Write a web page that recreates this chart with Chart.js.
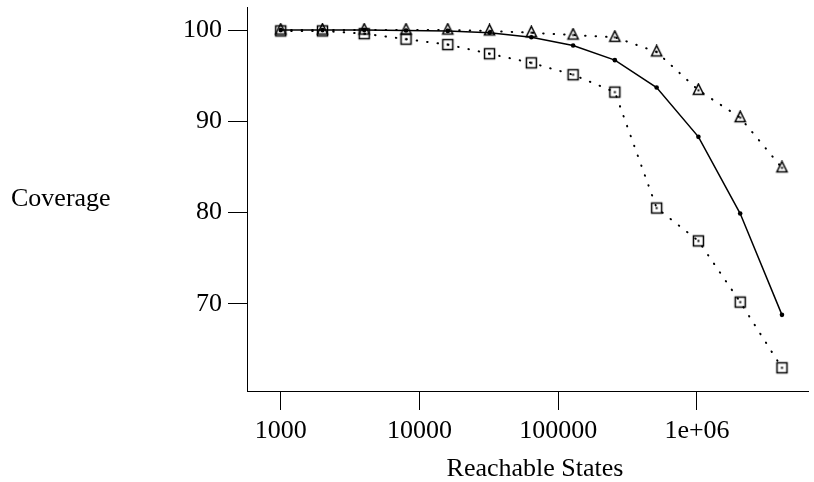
<!DOCTYPE html>
<html>
<head>
<meta charset="utf-8">
<script src="https://cdn.jsdelivr.net/npm/chart.js@4"></script>
<style>
  html, body { margin: 0; padding: 0; background: #fff; }
</style>
</head>
<body>
<canvas id="coverageChart" width="814" height="482"></canvas>
<script>
// data
const states = [1000, 2000, 4000, 8000, 16000, 32000, 64000, 128000, 256000, 512000, 1024000, 2048000, 4096000];
const exactCoverage = [100, 100, 100, 99.95, 99.9, 99.7, 99.2, 98.3, 96.7, 93.7, 88.3, 79.9, 68.8];
const triangleCoverage = [100, 100, 100, 100, 100, 99.9, 99.7, 99.45, 99.2, 97.6, 93.4, 90.4, 84.9];
const squareCoverage = [99.9, 99.9, 99.6, 99.0, 98.4, 97.4, 96.4, 95.1, 93.2, 80.5, 76.9, 70.2, 63.0];

const xTicks = [1000, 10000, 100000, 1000000];
const xTickLabels = ['1000', '10000', '100000', '1e+06'];
const yTicks = [70, 80, 90, 100];

const FONT = 'Liberation Serif, Times New Roman, serif';

// open markers with a dot in the middle
function makeMarker(kind) {
  const c = document.createElement('canvas');
  c.width = 15; c.height = 15;
  const g = c.getContext('2d');
  g.strokeStyle = '#000';
  g.fillStyle = '#000';
  g.lineWidth = 1.5;
  g.lineJoin = 'miter';
  g.beginPath();
  if (kind === 'triangle') {
    g.moveTo(7.5, 1.2);
    g.lineTo(2.4, 11.5);
    g.lineTo(12.6, 11.5);
    g.closePath();
  } else {
    g.rect(2.5, 2.5, 10, 10);
  }
  g.stroke();
  g.fillRect(6.5, 6.5, 2, 2);
  return c;
}

const toPoints = ys => states.map((s, i) => ({ x: s, y: ys[i] }));

// axis titles placed where the original has them
const axisTitles = {
  id: 'axisTitles',
  afterDraw(chart) {
    const c = chart.ctx;
    c.save();
    c.fillStyle = '#000';
    c.font = '26px ' + FONT;
    c.textBaseline = 'alphabetic';
    c.textAlign = 'left';
    c.fillText('Coverage', 11, 206);
    c.textAlign = 'center';
    c.fillText('Reachable States', 535, 476);
    c.restore();
  }
};

const ctx = document.getElementById('coverageChart').getContext('2d');

new Chart(ctx, {
  type: 'line',
  data: {
    datasets: [
      {
        label: 'exact',
        data: toPoints(exactCoverage),
        borderColor: '#000',
        backgroundColor: '#000',
        borderWidth: 1.5,
        pointStyle: 'circle',
        pointRadius: 2.3,
        pointBorderWidth: 0,
        tension: 0
      },
      {
        label: 'triangles',
        data: toPoints(triangleCoverage),
        borderColor: '#000',
        borderWidth: 2,
        borderDash: [0.5, 10],
        borderCapStyle: 'round',
        pointStyle: makeMarker('triangle'),
        tension: 0
      },
      {
        label: 'squares',
        data: toPoints(squareCoverage),
        borderColor: '#000',
        borderWidth: 2,
        borderDash: [0.5, 10],
        borderCapStyle: 'round',
        pointStyle: makeMarker('square'),
        tension: 0
      }
    ]
  },
  options: {
    responsive: false,
    animation: false,
    layout: { padding: { left: 0, top: 7, right: 1, bottom: 0 } },
    plugins: {
      legend: { display: false },
      tooltip: { enabled: false }
    },
    scales: {
      x: {
        type: 'logarithmic',
        min: 571.6,
        max: 6.31e6,
        afterBuildTicks: s => { s.ticks = xTicks.map(v => ({ value: v })); },
        afterFit: s => { s.height = 91; s.paddingLeft = 0; s.paddingRight = 0; },
        grid: { drawOnChartArea: false, drawTicks: true, tickLength: 19, color: '#000', lineWidth: 1 },
        border: { display: true, color: '#000', width: 1 },
        ticks: {
          autoSkip: false,
          maxRotation: 0,
          padding: 6,
          color: '#000',
          font: { family: FONT, size: 26 },
          callback: (v, i) => xTickLabels[i]
        }
      },
      y: {
        type: 'linear',
        min: 60.46,
        max: 102.52,
        afterBuildTicks: s => { s.ticks = yTicks.map(v => ({ value: v })); },
        afterFit: s => { s.width = 247; s.paddingTop = 0; s.paddingBottom = 0; },
        grid: { drawOnChartArea: false, drawTicks: true, tickLength: 19, color: '#000', lineWidth: 1 },
        border: { display: true, color: '#000', width: 1 },
        ticks: {
          padding: 6,
          color: '#000',
          font: { family: FONT, size: 26 },
          callback: v => String(v)
        }
      }
    }
  },
  plugins: [axisTitles]
});
</script>
</body>
</html>
